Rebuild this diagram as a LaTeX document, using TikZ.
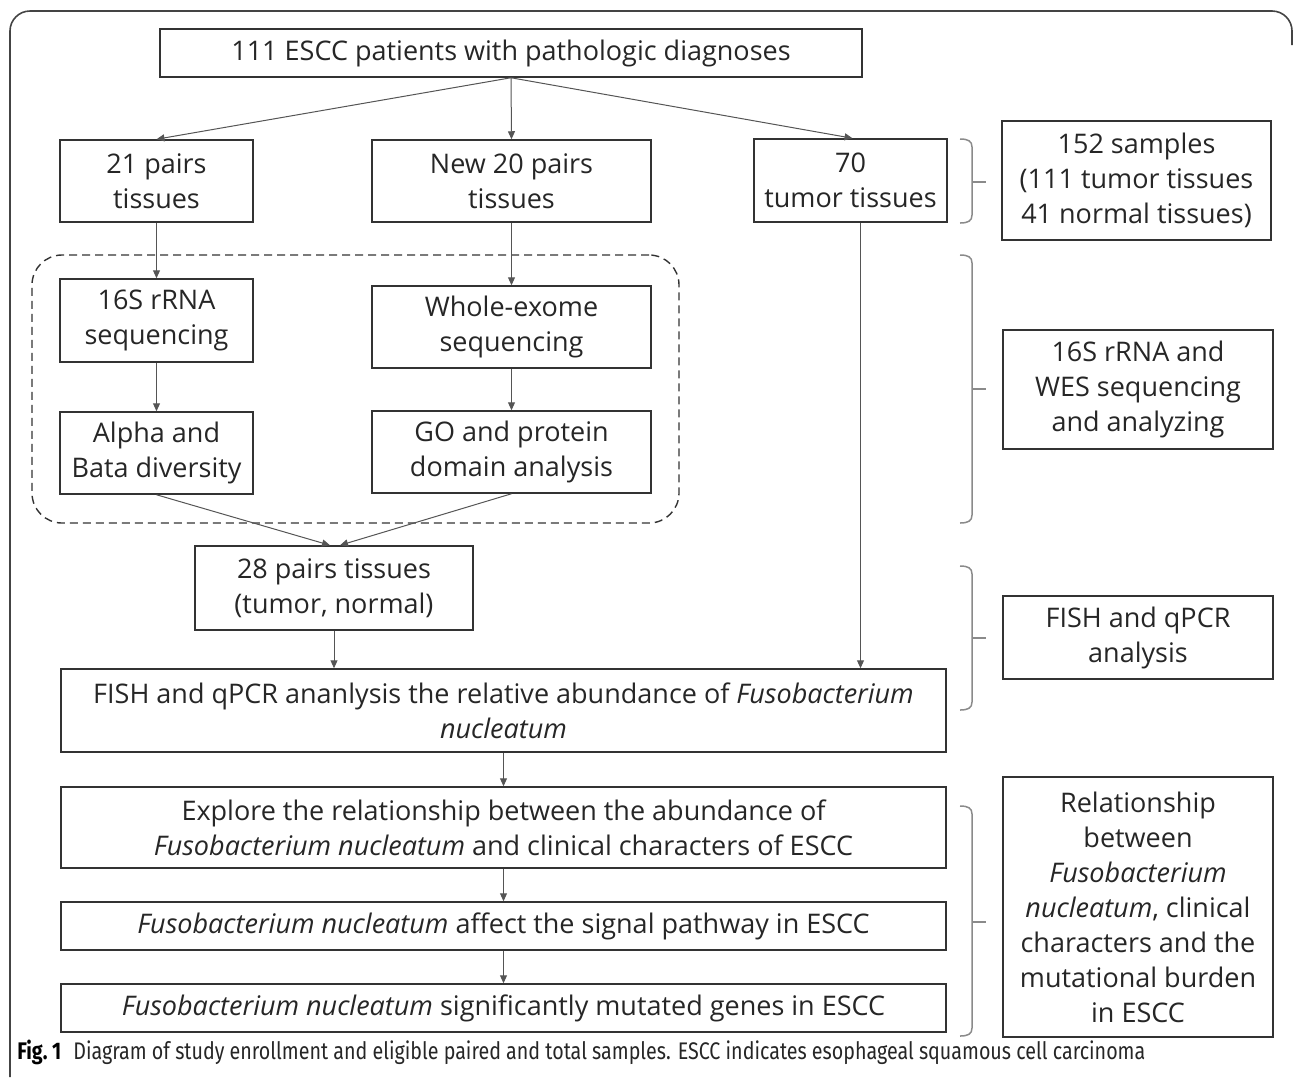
\documentclass[tikz,border=0pt]{standalone}
\usepackage{fontspec}
\setmainfont{Open Sans}
\newfontfamily\capfont[FakeStretch=0.82]{Fira Sans}
\usetikzlibrary{arrows.meta}
\definecolor{boxcol}{HTML}{333333}
\definecolor{txtcol}{HTML}{262626}
\definecolor{arrcol}{HTML}{555555}
\definecolor{bracecol}{HTML}{8A8A8A}
\definecolor{framecol}{HTML}{444444}
\begin{document}
\begin{tikzpicture}[x=0.5pt,y=-0.5pt,
  box/.style={draw=boxcol, line width=0.75pt, align=center, inner sep=0pt, text=txtcol,
    font=\fontsize{13.5}{17.5}\selectfont},
  arr/.style={draw=arrcol, line width=0.5pt, -{Triangle[length=4pt,width=3.5pt]}},
  bracestyle/.style={draw=bracecol, line width=0.75pt},
  grpbox/.style={draw=boxcol, line width=0.7pt, dash pattern=on 4pt off 2.5pt, rounded corners=15pt}]
\useasboundingbox (0,0) rectangle (1293,1077);
% outer frame
\draw[framecol, line width=0.8pt, rounded corners=10pt] (10,1077) -- (10,11) -- (1292,11) -- (1292,45);
% group
\node[grpbox, minimum width=323.5pt, minimum height=134pt] (grp) at (355.5,389) {};
% boxes
\node[box, minimum width=351pt, minimum height=24pt] (top) at (511,53) {111 ESCC patients with pathologic diagnoses};
\node[box, minimum width=96.5pt, minimum height=41pt] (n21) at (156.5,181) {21 pairs\\tissues};
\node[box, minimum width=139.5pt, minimum height=41pt] (n20) at (511.5,181) {New 20 pairs\\tissues};
\node[box, minimum width=96.5pt, minimum height=41.5pt] (n70) at (850.5,180.5) {70\\tumor tissues};
\node[box, minimum width=134.5pt, minimum height=59.5pt] (s152) at (1136.5,180.5) {152 samples\\(111 tumor tissues\\41 normal tissues)};
\node[box, minimum width=96.5pt, minimum height=41.5pt] (r16s) at (156.5,320.5) {16S rRNA\\sequencing};
\node[box, minimum width=139.5pt, minimum height=41pt] (wes) at (511.5,327) {Whole-exome\\sequencing};
\node[box, minimum width=96.5pt, minimum height=41pt] (alpha) at (156.5,453) {Alpha and\\Bata diversity};
\node[box, minimum width=139.5pt, minimum height=41pt] (go) at (511.5,452) {GO and protein\\domain analysis};
\node[box, minimum width=139pt, minimum height=42pt] (p28) at (334,588) {28 pairs tissues\\(tumor, normal)};
\node[box, minimum width=442.5pt, minimum height=41.5pt] (fish) at (503.5,710.5) {FISH and qPCR ananlysis the relative abundance of \textit{Fusobacterium}\\\textit{nucleatum}};
\node[box, minimum width=442.5pt, minimum height=40.5pt] (explore) at (503.5,827.5) {Explore the relationship between the abundance of\\\textit{Fusobacterium nucleatum} and clinical characters of ESCC};
\node[box, minimum width=442.5pt, minimum height=24pt] (affect) at (503.5,926) {\textit{Fusobacterium nucleatum} affect the signal pathway in ESCC};
\node[box, minimum width=442.5pt, minimum height=24pt] (signif) at (503.5,1008) {\textit{Fusobacterium nucleatum} significantly mutated genes in ESCC};
\node[box, minimum width=135pt, minimum height=59.5pt] (seqbox) at (1138,389.5) {16S rRNA and\\WES sequencing\\and analyzing};
\node[box, minimum width=135pt, minimum height=41.5pt] (fishbox) at (1138,637.5) {FISH and qPCR\\analysis};
\node[box, minimum width=135pt, minimum height=130pt] (relbox) at (1138,907) {Relationship\\between\\\textit{Fusobacterium}\\\textit{nucleatum}, clinical\\characters and the\\mutational burden\\in ESCC};
% arrows
\draw[arr] (top.south) -- (n21.north);
\draw[arr] (top.south) -- (n20.north);
\draw[arr] (top.south) -- ([xshift=1pt]n70.north);
\draw[arr] (n21.south) -- (r16s.north);
\draw[arr] (n20.south) -- (wes.north);
\draw[arr] (r16s.south) -- (alpha.north);
\draw[arr] (wes.south) -- (go.north);
\draw[arr] (alpha.south) -- ([xshift=-2pt]p28.north);
\draw[arr] (go.south) -- ([xshift=3pt]p28.north);
\draw[arr] ([xshift=5pt]n70.south) -- ([xshift=5pt]n70.south |- fish.north);
\draw[arr] (p28.south) -- (p28.south |- fish.north);
\draw[arr] (fish.south) -- (explore.north);
\draw[arr] (explore.south) -- (affect.north);
\draw[arr] (affect.south) -- (signif.north);
% braces
\foreach \t/\b/\m in {139/223/182, 255/523/389, 566/710/638, 806/1036/922}{
  \draw[bracestyle] (960,\t) .. controls (968,\t) and (972,{\t+2}) .. (972,{\t+8})
     -- (972,{\b-8}) .. controls (972,{\b-2}) and (968,\b) .. (960,\b);
  \draw[bracestyle] (972,\m) -- (986,\m);
}
% caption
\node[anchor=west, inner sep=0pt, font=\capfont\fontsize{12}{14}\selectfont, text=txtcol] (cap) at (17,1052)
  {\textbf{\color{black}Fig.~1}\enspace Diagram of study enrollment and eligible paired and total samples. ESCC indicates esophageal squamous cell carcinoma};
\end{tikzpicture}
\end{document}
